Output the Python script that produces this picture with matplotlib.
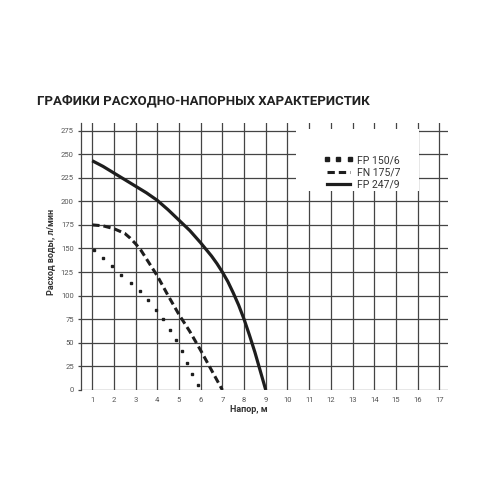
import matplotlib.pyplot as plt
from matplotlib.lines import Line2D
from matplotlib.patches import Rectangle

# FP 247/9 (solid)
x_fp247 = [1, 1.5, 2, 2.5, 3, 3.5, 4, 4.5, 5, 5.5, 6, 6.5, 6.75, 7, 7.25, 7.5, 7.75, 8, 8.25, 8.5, 8.75, 9]
y_fp247 = [243, 237, 230, 223, 216, 209, 201, 191, 180, 169, 156, 142, 134, 125, 115, 103, 90, 75, 58, 40, 20, 0]

# FN 175/7 (dashed)
x_fn175 = [1, 1.5, 2, 2.5, 2.75, 3, 3.25, 3.5, 4, 4.5, 5, 5.5, 6, 6.5, 7]
y_fn175 = [175, 174, 171, 166, 161, 155, 148, 139, 121, 100, 80, 62, 42, 21, 0]

# FP 150/6 (dots)
x_fp150 = [1.06, 1.5, 1.93, 2.35, 2.78, 3.19, 3.55, 3.92, 4.27, 4.57, 4.88, 5.13, 5.38, 5.62, 5.88]
y_fp150 = [148, 140, 131, 122, 113, 105, 95, 85, 75, 64, 53, 41, 29, 17, 5]

x_ticks = list(range(1, 18))
y_ticks = list(range(0, 276, 25))
labels = ['FP 150/6', 'FN 175/7', 'FP 247/9']

grid_col = '#444444'
ink = '#1e1e1e'
plt.rcParams['font.family'] = ['Roboto', 'DejaVu Sans']

fig = plt.figure(figsize=(5, 5), dpi=100)
ax = fig.add_axes([0.1614, 0.22, 0.7346, 0.534])
ax.set_xlim(0.47, 17.4)
ax.set_ylim(0, 283)

for x in x_ticks:
    ax.axvline(x, color=grid_col, lw=0.9, zorder=1)
for y in y_ticks:
    ax.axhline(y, color=grid_col, lw=0.9, zorder=1)

# white patch behind the legend
ax.add_patch(Rectangle((10.4, 211), 5.65, 65.5, facecolor='white', edgecolor='none', zorder=2))

ax.plot(x_fp247, y_fp247, color=ink, lw=2.3, solid_capstyle='butt', solid_joinstyle='round', zorder=3)
ax.plot(x_fn175, y_fn175, color=ink, lw=2.2, dashes=(2.4, 1.3), zorder=3)
ax.plot(x_fp150, y_fp150, 's', color=ink, ms=1.9, zorder=3)

for s in ['top', 'right', 'bottom']:
    ax.spines[s].set_visible(False)
ax.spines['left'].set_color(grid_col)
ax.spines['left'].set_linewidth(0.9)

ax.set_xticks(x_ticks)
ax.set_yticks(y_ticks)
ax.tick_params(axis='x', length=0, pad=5, labelsize=5.5, labelcolor='#555555')
ax.tick_params(axis='y', length=2, width=0.9, color=grid_col, pad=3, labelsize=5.5, labelcolor='#555555')

ax.set_xlabel('Напор, м', fontsize=6.5, fontweight='bold', color='#333333')
ax.xaxis.set_label_coords(0.458, -0.055)
ax.set_ylabel('Расход воды, л/мин', fontsize=6.5, fontweight='bold', color='#333333')
ax.yaxis.set_label_coords(-0.07, 0.517)

handles = [
    Line2D([], [], ls='none', marker='s', ms=2.2, color=ink),
    Line2D([], [], color=ink, lw=2.2, dashes=(2.4, 1.3)),
    Line2D([], [], color=ink, lw=2.3),
]
leg = ax.legend(handles, labels, loc='upper left', bbox_to_anchor=(0.636, 0.915), frameon=False,
                numpoints=3, fontsize=7.5, handlelength=2.8, handletextpad=0.4, labelspacing=0.2,
                labelcolor='#333333')
leg.set_zorder(4)

fig.text(0.074, 0.798, 'ГРАФИКИ РАСХОДНО-НАПОРНЫХ ХАРАКТЕРИСТИК', fontsize=9.5,
         fontweight='bold', color='#222222', va='center')

fig.savefig('out.png', dpi=100, facecolor='white')
